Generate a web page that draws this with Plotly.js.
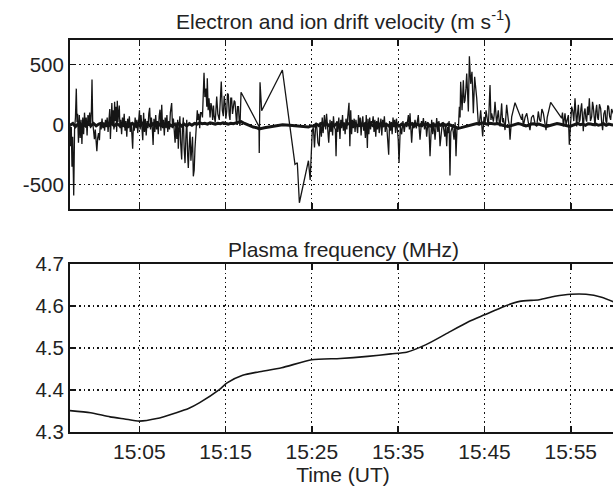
<!DOCTYPE html>
<html><head><meta charset="utf-8">
<script src="https://cdn.plot.ly/plotly-3.0.1.min.js"></script>
<style>html,body{margin:0;padding:0;overflow:hidden;background:#fff}</style>
</head><body><div id="chart"></div>
<script>
// time in minutes after 15:00 UT
const elecTime = [
-3.03,-2.95,-2.88,-2.8,-2.72,-2.6,-2.5,-2.4,-2.3,-2.22,
-2.15,-2.05,-1.95,-1.85,-1.75,-1.65,-1.55,-1.45,-1.35,-1.25,
-1.15,-1.05,-0.95,-0.85,-0.75,-0.65,-0.55,-0.48,-0.4,-0.3,
-0.2,-0.1,0,0.08,0.18,0.28,0.38,0.48,0.58,0.68,
0.78,0.88,0.98,1.08,1.18,1.28,1.38,1.48,1.58,1.65,
1.72,1.82,1.9,1.98,2.06,2.14,2.22,2.3,2.38,2.45,
2.52,2.6,2.68,2.76,2.85,2.95,3.05,3.15,3.25,3.35,
3.45,3.55,3.65,3.75,3.85,3.95,4.05,4.15,4.23,4.32,
4.42,4.52,4.62,4.72,4.82,4.92,5.02,5.1,5.2,5.3,
5.4,5.5,5.6,5.7,5.8,5.9,6.0,6.1,6.2,6.3,
6.4,6.5,6.6,6.7,6.8,6.9,7.0,7.1,7.2,7.3,
7.4,7.5,7.6,7.7,7.8,7.9,8.0,8.1,8.2,8.3,
8.4,8.5,8.6,8.75,8.85,8.95,9.05,9.15,9.25,9.35,
9.45,9.52,9.6,9.7,9.8,9.91,10.0,10.1,10.2,10.3,
10.4,10.5,10.6,10.68,10.78,10.88,10.98,11.07,11.17,11.26,
11.36,11.45,11.55,11.65,11.72,11.8,11.9,12.0,12.1,12.23,
12.32,12.5,12.6,12.73,12.82,12.88,12.98,13.08,13.2,13.3,
13.39,13.5,13.6,13.66,13.8,13.97,14.1,14.27,14.38,14.5,
14.62,14.74,14.84,14.93,15.03,15.13,15.22,15.32,15.42,15.51,
15.6,15.7,15.8,15.9,16.0,16.09,16.18,16.28,16.38,16.49,
16.58,16.67,16.79,18.87,18.9,18.99,19.18,21.58,23.04,23.31,
23.55,24.3,24.6,24.8,24.95,25.05,25.18,25.3,25.45,25.57,
25.7,25.85,25.95,26.1,26.2,26.3,26.45,26.6,26.7,26.85,
26.95,27.1,27.2,27.3,27.4,27.5,27.6,27.72,27.8,27.9,
28.0,28.12,28.25,28.35,28.45,28.55,28.65,28.75,28.85,28.95,
29.05,29.15,29.3,29.4,29.5,29.6,29.7,29.8,29.9,30.0,
30.1,30.2,30.3,30.4,30.5,30.6,30.7,30.8,30.9,31.0,
31.1,31.2,31.3,31.43,31.5,31.6,31.7,31.8,31.9,32.0,
32.1,32.2,32.3,32.4,32.5,32.6,32.7,32.8,32.9,33.0,
33.1,33.2,33.3,33.4,33.5,33.6,33.7,33.9,34.0,34.1,
34.2,34.3,34.4,34.5,34.6,34.7,34.8,34.9,35.0,35.1,
35.25,35.4,35.55,35.7,35.85,36.0,36.18,36.3,36.37,36.56,
36.7,36.82,36.95,37.1,37.23,37.33,37.45,37.53,37.7,37.8,
37.92,38.05,38.18,38.3,38.45,38.57,38.69,38.8,38.88,39.0,
39.12,39.27,39.4,39.46,39.6,39.72,39.85,40.0,40.12,40.23,
40.4,40.5,40.62,40.72,40.81,40.9,41.0,41.1,41.19,41.3,
41.47,41.6,41.7,41.82,41.97,42.09,42.17,42.24,42.4,42.55,
42.65,42.74,42.85,42.94,43.05,43.13,43.25,43.4,43.55,43.71,
43.86,44.1,44.29,44.4,44.56,44.68,44.79,44.95,45.07,45.18,
45.32,45.45,45.64,45.75,45.83,46.03,46.12,46.22,46.41,46.6,
46.7,46.8,46.99,47.1,47.19,47.38,47.48,47.57,47.76,47.86,
47.96,48.05,48.15,48.54,49.31,49.4,49.5,49.7,49.9,50.08,
50.27,50.45,50.66,50.85,51.05,51.24,51.38,51.51,51.65,51.82,
51.98,52.13,52.27,52.4,52.67,53.94,54.04,54.14,54.23,54.33,
54.45,54.6,54.72,54.83,54.99,55.1,55.22,55.35,55.49,55.68,
55.78,55.88,55.98,56.07,56.17,56.26,56.36,56.45,56.55,56.65,
56.75,56.84,56.95,57.05,57.15,57.28,57.42,57.52,57.61,57.71,
57.81,57.9,58.0,58.1,58.19,58.32,58.46,58.58,58.69,58.83,
58.97,59.07,59.16,59.28,59.39,59.5,59.62,59.73,59.85,60.1
];
const elecVel = [
0,-180,-20,-350,-100,-590,-40,60,300,20,
90,-150,80,-110,40,-160,60,-80,100,-20,
60,-90,80,10,100,-30,120,375,20,-60,
-120,-40,-160,-220,-110,-70,-130,10,-40,50,
-30,20,-50,40,-20,60,-60,30,130,-120,
40,180,0,120,-40,190,30,150,-60,200,
20,100,160,-30,40,-80,60,-20,90,-50,
30,-100,50,-30,70,-60,20,-90,-200,10,
-50,60,-30,40,-70,30,120,-40,80,-20,
-130,100,-60,50,-90,30,-30,90,140,-40,
60,-20,-170,50,-60,80,-40,30,-80,70,
125,-50,165,-30,40,-90,60,-20,80,-60,
30,-40,100,180,-30,50,-80,-150,20,-120,
40,-200,-60,70,-160,-290,-40,60,-200,-320,
-100,40,-250,-360,-180,-60,-300,-210,-100,-430,
-380,-200,-80,-20,120,40,90,-30,100,100,
60,433,230,300,150,386,120,220,60,180,
150,40,160,80,20,235,90,40,200,360,
120,70,240,180,50,110,260,250,80,40,
220,220,90,140,200,190,60,0,150,150,
30,-10,270,-14,-235,353,116,455,-331,-317,
-650,-400,-300,-460,-100,-40,-30,-190,10,-20,
-150,-180,20,-100,60,-70,80,-40,90,-20,
-150,40,-60,30,-90,70,-20,-40,-263,30,
-60,60,-120,40,-30,80,-50,20,-80,50,
-40,60,183,-180,120,-80,40,-30,50,-60,
40,-10,-70,80,-20,60,-90,20,70,-50,
0,-110,80,-195,50,-80,60,-40,30,10,
70,-60,40,-100,30,-40,60,-70,20,50,
-90,40,-20,70,-60,10,-40,-250,30,-50,
20,-80,60,-20,40,-70,50,-30,-120,-318,
-10,-80,30,-60,20,-20,80,-40,95,-150,
20,-30,40,-30,30,80,-50,-125,30,-20,
55,-40,30,-100,20,-30,-263,10,40,-80,
20,-125,0,55,-60,30,-180,-40,20,-15,
-100,10,-180,-20,-70,30,-423,-60,-40,-10,
-125,20,-263,-20,-40,150,60,357,120,370,
180,200,300,425,250,110,569,340,440,95,
398,220,0,0,120,20,-98,65,10,120,
30,-15,330,40,95,25,80,190,10,120,
30,-15,177,20,55,-45,70,165,40,0,
-125,30,65,183,40,90,-15,60,95,20,
-45,60,80,10,-15,110,40,25,130,95,
30,-45,60,110,185,55,100,-15,40,95,
0,40,80,-166,40,150,120,30,219,-15,
90,165,20,40,130,177,60,-55,100,135,
50,25,150,80,219,30,65,190,150,40,
-15,110,165,60,40,170,135,20,-45,90,
120,30,10,160,150,70,40,130,110,60
];
const ionTime = [
-3.03,-2.7,-2.4,-2.1,-1.8,-1.5,-1.2,-0.9,-0.6,-0.3,
0.0,0.3,0.6,0.9,1.2,1.5,1.8,2.1,2.4,2.7,
3.0,3.3,3.6,3.9,4.2,4.5,4.8,5.1,5.4,5.7,
6.0,6.3,6.6,6.9,7.2,7.5,7.8,8.1,8.4,8.7,
9.0,9.3,9.6,9.9,10.2,10.5,10.8,11.1,11.4,11.7,
12.0,12.3,12.6,12.9,13.2,13.5,13.8,14.1,14.4,14.7,
15.0,15.3,15.6,15.9,16.2,16.5,16.8,17.2,17.7,18.2,
18.6,18.9,19.5,20.2,21.0,21.6,22.4,23.2,24.0,24.6,
24.9,25.2,25.5,25.8,26.1,26.4,26.7,27.0,27.3,27.6,
27.9,28.2,28.5,28.8,29.1,29.4,29.7,30.0,30.3,30.6,
30.9,31.2,31.5,31.8,32.1,32.4,32.7,33.0,33.3,33.6,
33.9,34.2,34.5,34.8,35.1,35.4,35.7,36.0,36.3,36.6,
36.9,37.2,37.5,37.8,38.1,38.4,38.7,39.0,39.3,39.6,
39.9,40.2,40.5,40.8,41.1,41.4,41.7,42.0,42.3,42.6,
42.9,43.2,43.5,43.8,44.1,44.4,44.7,45.0,45.3,45.6,
45.9,46.2,46.5,46.8,47.1,47.4,47.7,48.0,48.3,48.6,
48.9,49.2,49.5,49.8,50.1,50.4,50.7,51.0,51.3,51.6,
51.9,52.2,52.5,52.8,53.1,53.4,53.7,54.0,54.3,54.6,
54.9,55.2,55.5,55.8,56.1,56.4,56.7,57.0,57.3,57.6,
57.9,58.2,58.5,58.8,59.1,59.4,59.7,60.0,60.2
];
const ionVel = [
-5,10,-15,5,-10,8,-12,6,-8,10,
-10,5,12,-8,10,-5,12,-10,8,-6,
10,-12,5,-8,10,-5,8,-10,12,-6,
5,-12,8,-5,10,-10,5,-15,8,-10,
5,-8,10,-12,5,-10,8,-5,10,5,
15,8,12,5,15,10,5,12,8,15,
10,5,12,8,15,20,25,10,-5,-20,
-25,-35,-25,-15,-5,0,-5,-10,-15,-20,
-10,-15,5,-8,10,-5,8,-10,5,-8,
10,-5,8,-12,5,10,-8,5,-10,8,
-5,10,-8,5,-10,8,-5,10,-8,5,
-10,8,-5,10,-12,5,-8,10,-5,8,
-10,5,-8,10,-5,8,-12,5,-8,10,
-5,8,-10,5,-5,-15,-25,-30,-25,-20,
-15,-10,-5,5,10,5,15,10,5,12,
8,5,10,0,-5,-10,-15,-10,-5,5,
10,5,-5,-10,-5,5,8,0,5,-5,
-10,-15,-10,-5,5,10,5,0,-5,-10,
-15,-5,5,10,0,5,-5,8,5,0,
5,-5,0,8,-5,5,0,-5,0
];
const plasmaTime = [-3.03,-0.65,1.61,3.3,5.0,7.03,9.29,10.7,12.0,14.27,15.17,16.98,18.79,21.5,24.98,28.28,31.45,34.16,35.97,38.23,40.49,43.2,45.01,47.27,49.08,51.34,53.15,55.0,56.76,58.57,60.2];
const plasmaFreq = [4.351,4.346,4.336,4.331,4.326,4.332,4.346,4.356,4.370,4.401,4.417,4.435,4.443,4.453,4.472,4.475,4.480,4.486,4.490,4.508,4.533,4.563,4.579,4.599,4.611,4.615,4.623,4.628,4.628,4.621,4.608];

const timeTicks = [5,15,25,35,45,55];
const timeLabels = ['15:05','15:15','15:25','15:35','15:45','15:55'];
const velTicks = [-500,0,500];
const velLabels = ['-500','0','500'];
const freqTicks = [4.3,4.4,4.5,4.6,4.7];
const freqLabels = ['4.3','4.4','4.5','4.6','4.7'];

const FONT = 'Liberation Sans, Arial, Helvetica, sans-serif';
const INK = '#151515';
const TXT = '#222';
const common = {
  showline:true, mirror:'ticks', linecolor:INK, linewidth:2,
  ticks:'inside', ticklen:6, tickwidth:1.5, tickcolor:INK,
  showgrid:true, gridcolor:INK, gridwidth:1.2, griddash:'1.5px,3px',
  zeroline:false, tickfont:{family:FONT, size:20.5, color:TXT}
};
const xr = [-3.03, 60.24];

const traces = [
  {x:elecTime, y:elecVel, type:'scatter', mode:'lines', line:{color:INK, width:1.3}, xaxis:'x', yaxis:'y', hoverinfo:'skip'},
  {x:ionTime, y:ionVel, type:'scatter', mode:'lines', line:{color:INK, width:3}, xaxis:'x', yaxis:'y', hoverinfo:'skip'},
  {x:plasmaTime, y:plasmaFreq, type:'scatter', mode:'lines', line:{color:INK, width:1.6, shape:'spline', smoothing:0.6}, xaxis:'x2', yaxis:'y2', hoverinfo:'skip'}
];

const layout = {
  width:616, height:491,
  margin:{l:70, r:0, t:40, b:59},
  paper_bgcolor:'#fff', plot_bgcolor:'#fff',
  showlegend:false,
  xaxis:Object.assign({}, common, {domain:[0,1], anchor:'y', range:xr, tickvals:timeTicks, ticktext:timeLabels, showticklabels:false}),
  yaxis:Object.assign({}, common, {domain:[0.568,1], anchor:'x', range:[-705,705], tickvals:velTicks, ticktext:velLabels}),
  xaxis2:Object.assign({}, common, {domain:[0,1], anchor:'y2', range:xr, tickvals:timeTicks, ticktext:timeLabels,
    tickfont:{family:FONT, size:21, color:TXT},
    title:{text:'Time (UT)', font:{family:FONT, size:21, color:TXT}, standoff:3}}),
  yaxis2:Object.assign({}, common, {domain:[0,0.4286], anchor:'x2', range:[4.3,4.7], tickvals:freqTicks, ticktext:freqLabels}),
  annotations:[
    {text:'Electron and ion drift velocity (m s<sup>-1</sup>)', xref:'paper', yref:'paper', x:0.5, y:1.05, xanchor:'center', yanchor:'middle', showarrow:false, font:{family:FONT, size:21, color:TXT}},
    {text:'Plasma frequency (MHz)', xref:'paper', yref:'paper', x:0.5, y:0.465, xanchor:'center', yanchor:'middle', showarrow:false, font:{family:FONT, size:21, color:TXT}}
  ]
};
Plotly.newPlot('chart', traces, layout, {staticPlot:true, displayModeBar:false});
</script>
</body></html>
